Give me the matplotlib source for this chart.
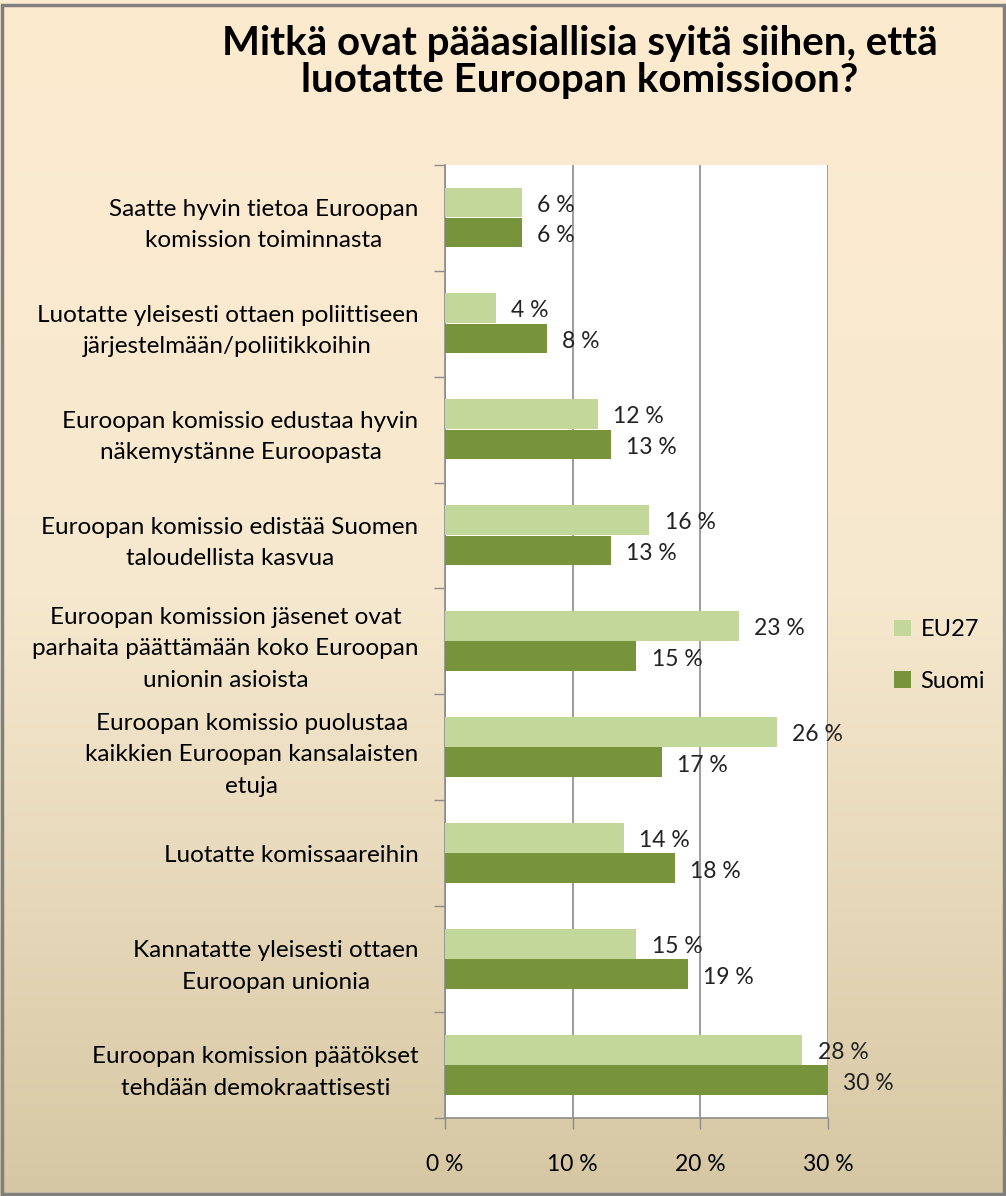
import matplotlib.pyplot as plt
import numpy as np
from matplotlib.colors import LinearSegmentedColormap
from matplotlib.patches import Rectangle

plt.rcParams["font.family"] = ["Lato", "DejaVu Sans"]

title = "Mitkä ovat pääasiallisia syitä siihen, että\nluotatte Euroopan komissioon?"
categories = [
    "Saatte hyvin tietoa Euroopan\nkomission toiminnasta",
    "Luotatte yleisesti ottaen poliittiseen\njärjestelmään/poliitikkoihin",
    "Euroopan komissio edustaa hyvin\nnäkemystänne Euroopasta",
    "Euroopan komissio edistää Suomen\ntaloudellista kasvua",
    "Euroopan komission jäsenet ovat\nparhaita päättämään koko Euroopan\nunionin asioista",
    "Euroopan komissio puolustaa\nkaikkien Euroopan kansalaisten\netuja",
    "Luotatte komissaareihin",
    "Kannatatte yleisesti ottaen\nEuroopan unionia",
    "Euroopan komission päätökset\ntehdään demokraattisesti",
]
eu27 = [6, 4, 12, 16, 23, 26, 14, 15, 28]
suomi = [6, 8, 13, 13, 15, 17, 18, 19, 30]
x_ticks = [0, 10, 20, 30]

light = "#C4D79B"
dark = "#77933C"
grid_col = "#8C8C8C"

fig = plt.figure(figsize=(10.06, 11.96), dpi=100)

# gradient background
bg = fig.add_axes([0, 0, 1, 1], zorder=-10)
cmap = LinearSegmentedColormap.from_list("bg", ["#FDEBD0", "#F6E8CE", "#D6C7A4"])
bg.imshow(np.linspace(0, 1, 256).reshape(-1, 1), aspect="auto", cmap=cmap,
          extent=[0, 1, 0, 1], origin="upper")
bg.add_patch(Rectangle((0.002, 0.002), 0.996, 0.994, fill=False,
                       edgecolor="#7F7F7F", linewidth=2.5, transform=bg.transAxes))
bg.set_xlim(0, 1)
bg.set_ylim(0, 1)
bg.axis("off")

fig.text(0.576, 0.948, title, ha="center", va="center", fontsize=29,
         fontweight="bold", linespacing=1.02)

ax = fig.add_axes([0.4423, 0.0652, 0.3807, 0.797])
ax.set_facecolor("white")

y = np.arange(len(categories))
h = 0.28
ax.barh(y - h / 2 - 0.005, eu27, height=h, color=light, label="EU27", zorder=3)
ax.barh(y + h / 2, suomi, height=h, color=dark, label="Suomi", zorder=3)

for i in range(len(categories)):
    ax.text(eu27[i] + 1.2, y[i] - h / 2 + 0.02, f"{eu27[i]} %", va="center", ha="left",
            fontsize=16.5, color="#222222", zorder=4, clip_on=False)
    ax.text(suomi[i] + 1.2, y[i] + h / 2 + 0.03, f"{suomi[i]} %", va="center", ha="left",
            fontsize=16.5, color="#222222", zorder=4, clip_on=False)

ax.set_xlim(0, 30)
ax.set_ylim(len(categories) - 0.5, -0.5)
ax.set_xticks(x_ticks)
ax.set_xticklabels([f"{t} %" for t in x_ticks], fontsize=16.5)
ax.set_yticks(y)
ax.set_yticklabels(categories, fontsize=17.5, multialignment="center", linespacing=1.62)
ax.set_yticks(np.arange(-0.5, len(categories), 1), minor=True)
ax.tick_params(axis="y", which="major", length=0, pad=19)
ax.tick_params(axis="y", which="minor", length=8, color=grid_col, width=1)
ax.tick_params(axis="x", length=8, color=grid_col, width=1, pad=18)
ax.xaxis.grid(True, color=grid_col, linewidth=1.2, zorder=1)
ax.set_axisbelow(True)
for side in ["top", "right"]:
    ax.spines[side].set_visible(False)
for side in ["left", "bottom"]:
    ax.spines[side].set_color(grid_col)
    ax.spines[side].set_linewidth(1.2)

fig.legend(loc="center left", bbox_to_anchor=(0.868, 0.452), frameon=False,
           fontsize=17, handlelength=0.7, handleheight=0.7, labelspacing=1.3,
           handletextpad=0.4)

fig.savefig("out.png", dpi=100)
